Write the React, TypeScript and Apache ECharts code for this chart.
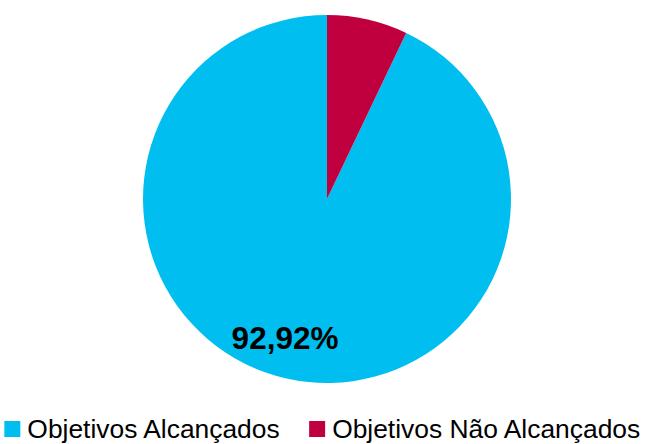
import React, { useEffect, useRef } from "react";
import * as echarts from "echarts";

const categories = ["Objetivos Alcançados", "Objetivos Não Alcançados"];
const values = [92.92, 7.08];
const labels = ["92,92%", ""];
const colors = ["#00bff0", "#c0003e"];

export default function App() {
  const ref = useRef<HTMLDivElement>(null);
  useEffect(() => {
    const chart = echarts.init(ref.current!, null, { renderer: "svg" });
    chart.setOption({
      animation: false,
      backgroundColor: "#ffffff",
      legend: {
        data: categories,
        bottom: 2,
        left: "center",
        width: 646,
        padding: 0,
        icon: "rect",
        itemWidth: 16,
        itemHeight: 16,
        itemGap: 28,
        textStyle: { fontFamily: "Liberation Sans", fontSize: 26.4, color: "#000", padding: [0, 0, 0, 2] },
      },
      series: [
        {
          type: "pie",
          center: [327, 199],
          radius: [0, 184],
          startAngle: 90,
          clockwise: false,
          silent: true,
          label: {
            show: true,
            position: "inside",
            formatter: (p: any) => labels[p.dataIndex],
            fontFamily: "Liberation Sans",
            fontWeight: "bold",
            fontSize: 31.5,
            color: "#000",
            offset: [-21, 46],
          },
          labelLine: { show: false },
          data: categories.map((c, i) => ({
            name: c,
            value: values[i],
            itemStyle: { color: colors[i] },
          })),
        },
      ],
    });
    return () => chart.dispose();
  }, []);
  return <div ref={ref} style={{ position: "fixed", left: 0, top: 0, width: 646, height: 444 }} />;
}
